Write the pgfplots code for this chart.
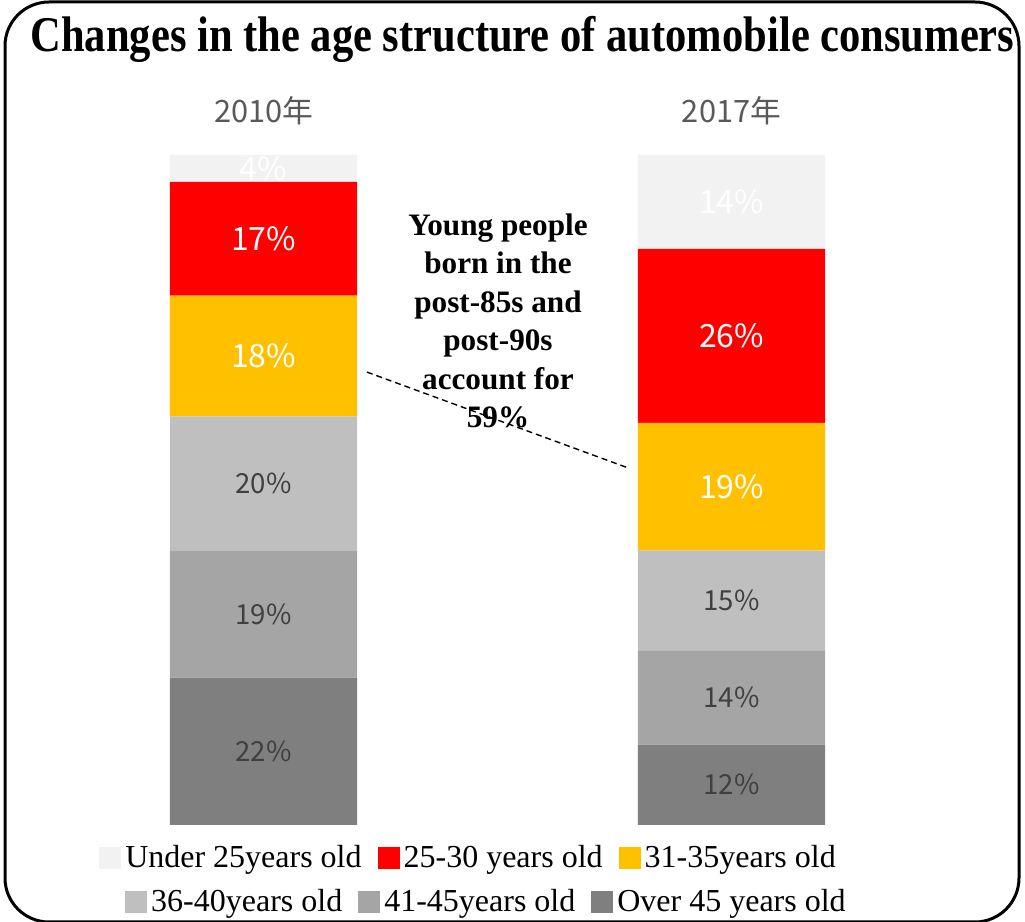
\documentclass[border=0pt]{standalone}
\usepackage{pgfplots}
\pgfplotsset{compat=1.18}
\usepackage{fontspec}
\setmainfont{Liberation Serif}
\newfontfamily\cjk{Noto Sans CJK SC}
\definecolor{cU}{HTML}{F2F2F2}
\definecolor{cA}{HTML}{FF0000}
\definecolor{cB}{HTML}{FFC000}
\definecolor{cC}{HTML}{BFBFBF}
\definecolor{cD}{HTML}{A5A5A5}
\definecolor{cE}{HTML}{7F7F7F}
\definecolor{lab}{HTML}{404040}
\definecolor{hdr}{HTML}{595959}
\pgfplotsset{sq/.style={legend image code/.code={\fill[##1] (0pt,-5.5pt) rectangle (11pt,5.5pt);}},
  wl/.style={every node near coord/.append style={text=white, font=\cjk\fontsize{16}{19}\selectfont}},
  legrow/.style={at={(O)}, anchor=south west, scale only axis, width=468pt, height=335pt,
    xmin=0, xmax=1, ymin=0, ymax=1, hide axis,
    legend columns=3, legend cell align=left,
    legend style={at={(#1)}, anchor=center, draw=none, fill=none,
      font=\fontsize{16}{19}\selectfont,
      /tikz/every even column/.append style={column sep=6pt}}}}
\begin{document}
\begin{tikzpicture}[x=0.5pt,y=0.5pt]
\useasboundingbox (0,0) rectangle (1025,922);
\draw[line width=1.5pt, rounded corners=22pt] (5,920) rectangle (1019,0);
\node[anchor=base] at (522.5,870) {\resizebox{492pt}{\height}{\bfseries\fontsize{25}{30}\selectfont Changes in the age structure of automobile consumers}};
\node[anchor=base, font=\cjk\fontsize{15.4}{18}\selectfont, text=hdr] at (264,799) {2010年};
\node[anchor=base, font=\cjk\fontsize{15.4}{18}\selectfont, text=hdr] at (731.5,799) {2017年};
\node[align=center, font=\bfseries\fontsize{15.6}{19.25}\selectfont] at (498,601) {Young people\\born in the\\post-85s and\\post-90s\\account for\\59\%};
\coordinate (O) at (29.5,97);
\begin{axis}[
  at={(O)}, anchor=south west,
  scale only axis, width=468pt, height=335pt,
  xmin=-0.5, xmax=1.5, ymin=0, ymax=100,
  hide axis, clip=false,
  ybar stacked, bar width=0.4,
  point meta=rawy,
  nodes near coords={\pgfmathprintnumber{\pgfplotspointmeta}\%},
  every node near coord/.append style={anchor=center, font=\cjk\fontsize{13.8}{16}\selectfont, text=lab},
  /pgf/number format/assume math mode=true,
]
\addplot[fill=cE, draw=none] coordinates {(0,22) (1,12)};
\addplot[fill=cD, draw=none] coordinates {(0,19) (1,14)};
\addplot[fill=cC, draw=none] coordinates {(0,20) (1,15)};
\addplot[fill=cB, draw=none, wl] coordinates {(0,18) (1,19)};
\addplot[fill=cA, draw=none, wl] coordinates {(0,17) (1,26)};
\addplot[fill=cU, draw=none, wl] coordinates {(0,4) (1,14)};
\draw[dashed, line width=0.7pt, dash pattern=on 3pt off 2pt] (axis cs:0.221,67.6) -- (axis cs:0.775,53.4);
\end{axis}
\begin{axis}[legrow={0.4701,-0.0493}]
\addlegendimage{sq, fill=cU, draw=none}
\addlegendentry{Under 25years old}
\addlegendimage{sq, fill=cA, draw=none}
\addlegendentry{25-30 years old}
\addlegendimage{sq, fill=cB, draw=none}
\addlegendentry{31-35years old}
\end{axis}
\begin{axis}[legrow={0.4893,-0.1145}]
\addlegendimage{sq, fill=cC, draw=none}
\addlegendentry{36-40years old}
\addlegendimage{sq, fill=cD, draw=none}
\addlegendentry{41-45years old}
\addlegendimage{sq, fill=cE, draw=none}
\addlegendentry{Over 45 years old}
\end{axis}
\end{tikzpicture}
\end{document}
